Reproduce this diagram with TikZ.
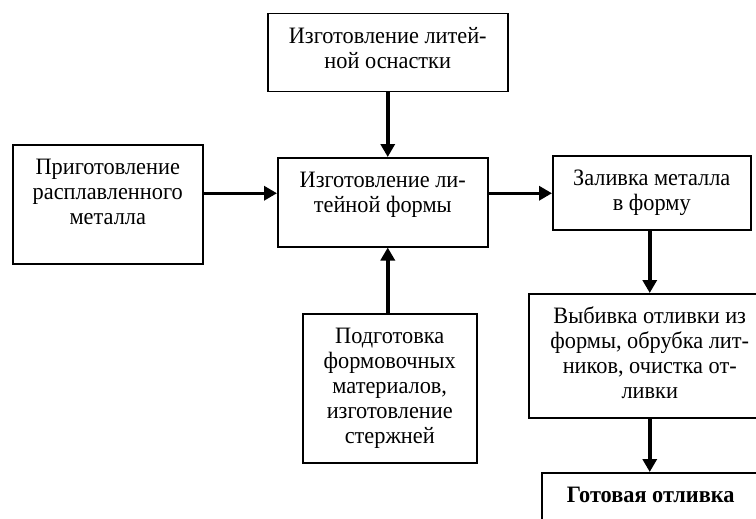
\documentclass[tikz,border=0pt]{standalone}
\usepackage{fontspec}
\setmainfont{Liberation Serif}[FakeStretch=0.95]
\usetikzlibrary{arrows.meta, positioning, calc}
\newcommand{\boxtxt}[3]{\begin{minipage}[t][#2][t]{#1}\centering\rule{0pt}{30pt}#3\end{minipage}}

\begin{document}
\begin{tikzpicture}[x=1pt, y=-1pt,
    blk/.style={draw, line width=1.5pt, anchor=north west, inner sep=0pt,
        font=\fontsize{23.5}{25}\selectfont},
    arr/.style={line width=3.5pt, -{Triangle[length=13pt, width=14pt]}}]
    \useasboundingbox (0,0) rectangle (756,519);

    % Boxes
    \node[blk] (osn) at (267,13) {\boxtxt{240pt}{78pt}{Изготовление литей-\\ной оснастки}};
    \node[blk] (metal) at (12,144) {\boxtxt{190pt}{119pt}{Приготовление\\расплавленного\\металла}};
    \node[blk] (forma) at (277,157) {\boxtxt{210pt}{89pt}{Изготовление ли-\\тейной формы}};
    \node[blk] (zaliv) at (552,155) {\boxtxt{198pt}{74pt}{Заливка металла\\в форму}};
    \node[blk] (podg) at (302,313) {\boxtxt{174pt}{149pt}{Подготовка\\формовочных\\материалов,\\изготовление\\стержней}};
    \node[blk] (vybiv) at (528,293) {\boxtxt{242pt}{124pt}{Выбивка отливки из\\формы, обрубка лит-\\ников, очистка от-\\ливки}};
    \node[blk] (gotov) at (541,472) {\boxtxt{218pt}{60pt}{\textbf{Готовая отливка}}};

    % Arrows
    \coordinate (ar1) at ([yshift=9pt]forma.west);
    \draw[arr] (metal.east |- ar1) -- (ar1);
    \draw[arr] (forma.east |- ar1) -- (zaliv.west |- ar1);
    \draw[arr] (osn.south) -- (osn.south |- forma.north);
    \draw[arr] (podg.north -| osn.south) -- (forma.south -| osn.south);
    \draw[arr] (zaliv.south -| vybiv.north) -- (vybiv.north);
    \draw[arr] (vybiv.south) -- (gotov.north -| vybiv.south);
\end{tikzpicture}
\end{document}
